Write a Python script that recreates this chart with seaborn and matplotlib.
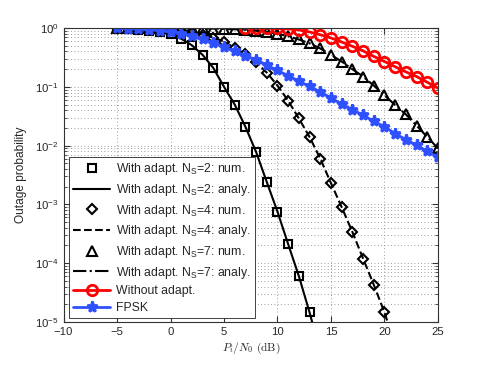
import numpy as np
import pandas as pd
import seaborn as sns
import matplotlib as mpl
mpl.use('Agg')
import matplotlib.pyplot as plt

sns.set_style('ticks')
plt.rcParams['font.family'] = ['Liberation Sans', 'DejaVu Sans']
plt.rcParams['mathtext.fontset'] = 'custom'
plt.rcParams['mathtext.rm'] = 'Liberation Sans'
plt.rcParams['mathtext.it'] = 'Liberation Sans:italic'
plt.rcParams['xtick.direction'] = 'in'
plt.rcParams['ytick.direction'] = 'in'

# N_S = 2 (numerical points; analytical curve uses the same points, one more past the axis)
snr_ns2 = [-5, -4, -3, -2, -1, 0, 1, 2, 3, 4, 5, 6, 7, 8, 9, 10, 11, 12, 13]
pout_ns2 = [0.97, 0.96, 0.94, 0.91, 0.86, 0.78, 0.66, 0.51, 0.35, 0.21, 0.10, 0.05,
            0.021, 7.8e-3, 2.4e-3, 7.5e-4, 2.1e-4, 6e-5, 1.45e-5]
snr_ns2_an = snr_ns2 + [14]
pout_ns2_an = pout_ns2 + [3e-6]

# N_S = 4
snr_ns4 = [-5, -4, -3, -2, -1, 0, 1, 2, 3, 4, 5, 6, 7, 8, 9, 10, 11, 12, 13, 14, 15,
           16, 17, 18, 19, 20]
pout_ns4 = [0.99, 0.985, 0.98, 0.97, 0.95, 0.93, 0.89, 0.84, 0.77, 0.69, 0.59, 0.46,
            0.36, 0.26, 0.175, 0.105, 0.058, 0.029, 0.014, 6e-3, 2.3e-3, 9e-4,
            3.4e-4, 1.2e-4, 4.3e-5, 1.45e-5]
snr_ns4_an = snr_ns4 + [21]
pout_ns4_an = pout_ns4 + [4e-6]

# N_S = 7
snr_ns7 = [-5, -4, -3, -2, -1, 0, 1, 2, 3, 4, 5, 6, 7, 8, 9, 10, 11, 12, 13, 14, 15,
           16, 17, 18, 19, 20, 21, 22, 23, 24, 25]
pout_ns7 = [0.999, 0.999, 0.998, 0.997, 0.996, 0.995, 0.993, 0.99, 0.985, 0.98, 0.97,
            0.955, 0.935, 0.9, 0.86, 0.8, 0.73, 0.64, 0.55, 0.45, 0.35, 0.27, 0.2,
            0.15, 0.105, 0.072, 0.049, 0.034, 0.022, 0.014, 0.009]

# without adaptation
snr_noad = [7, 8, 9, 10, 11, 12, 13, 14, 15, 16, 17, 18, 19, 20, 21, 22, 23, 24, 25]
pout_noad = [1.0, 0.998, 0.995, 0.985, 0.97, 0.93, 0.86, 0.77, 0.68, 0.58, 0.49, 0.41,
             0.33, 0.27, 0.22, 0.18, 0.15, 0.12, 0.095]

# FPSK
snr_fpsk = [-5, -4, -3, -2, -1, 0, 1, 2, 3, 4, 5, 6, 7, 8, 9, 10, 11, 12, 13, 14, 15,
            16, 17, 18, 19, 20, 21, 22, 23, 24, 25]
pout_fpsk = [0.99, 0.98, 0.96, 0.94, 0.91, 0.86, 0.8, 0.72, 0.64, 0.56, 0.48, 0.40,
             0.34, 0.29, 0.235, 0.19, 0.155, 0.125, 0.102, 0.082, 0.065, 0.051, 0.041,
             0.033, 0.026, 0.021, 0.016, 0.0127, 0.0102, 0.008, 0.0064]

fig = plt.figure(figsize=(4.85, 3.65), dpi=100)
ax = fig.add_axes([0.131, 0.118, 0.772, 0.805])

mk = dict(linestyle='none', color='k', markeredgecolor='k', markerfacecolor='none',
          markeredgewidth=1.5)
sns.lineplot(x=snr_ns2, y=pout_ns2, marker='s', markersize=5.5, ax=ax,
             label='With adapt. N$_\\mathrm{S}$=2: num.', **mk)
sns.lineplot(x=snr_ns2_an, y=pout_ns2_an, color='k', linewidth=1.5, linestyle='-', ax=ax,
             label='With adapt. N$_\\mathrm{S}$=2: analy.')
sns.lineplot(x=snr_ns4, y=pout_ns4, marker='D', markersize=5.5, ax=ax,
             label='With adapt. N$_\\mathrm{S}$=4: num.', **mk)
sns.lineplot(x=snr_ns4_an, y=pout_ns4_an, color='k', linewidth=1.5, linestyle='--', ax=ax,
             label='With adapt. N$_\\mathrm{S}$=4: analy.')
sns.lineplot(x=snr_ns7, y=pout_ns7, marker='^', markersize=7, ax=ax,
             label='With adapt. N$_\\mathrm{S}$=7: num.', **mk)
sns.lineplot(x=snr_ns7, y=pout_ns7, color='k', linewidth=1.5, linestyle='-.', ax=ax,
             label='With adapt. N$_\\mathrm{S}$=7: analy.')
sns.lineplot(x=snr_noad, y=pout_noad, color='#ff0000', linewidth=2, marker='o',
             markersize=7.5, markerfacecolor='none', markeredgecolor='#ff0000',
             markeredgewidth=2, ax=ax, label='Without adapt.')
sns.lineplot(x=snr_fpsk, y=pout_fpsk, color='#2f50ff', linewidth=2, marker='*',
             markersize=8, markerfacecolor='#2f50ff', markeredgecolor='#2f50ff',
             markeredgewidth=2, ax=ax, label='FPSK')

ax.set_yscale('log')
ax.set_xlim(-10, 25)
ax.set_ylim(1e-5, 1)
ax.set_xticks([-10, -5, 0, 5, 10, 15, 20, 25])
ax.set_xticklabels(['\u221210', '\u22125', '0', '5', '10', '15', '20', '25'])
ax.tick_params(which='both', top=True, right=True, labelsize=8.2, length=4,
               color='#333333')
ax.tick_params(which='minor', length=2)
ax.grid(which='major', linestyle=(0, (1, 3)), color='#808080', linewidth=0.6)
ax.grid(which='minor', axis='y', linestyle=(0, (1, 3)), color='#808080', linewidth=0.6)
for s in ax.spines.values():
    s.set_linewidth(0.8)
    s.set_color('#333333')

ax.set_ylabel('Outage probability', fontsize=8.6, labelpad=6)
ax.set_xlabel(r'$P_i/N_0\ \mathrm{(dB)}$', fontsize=8.3, math_fontfamily='cm', labelpad=3)

leg = ax.legend(loc='lower left', fontsize=8.8, handlelength=3.0, borderaxespad=0.3,
                labelspacing=0.38, fancybox=False, framealpha=1, edgecolor='#222222',
                borderpad=0.35, handletextpad=0.45, bbox_to_anchor=(0.005, 0.0))
leg.get_frame().set_linewidth(0.6)

fig.savefig('out.png', dpi=100)
